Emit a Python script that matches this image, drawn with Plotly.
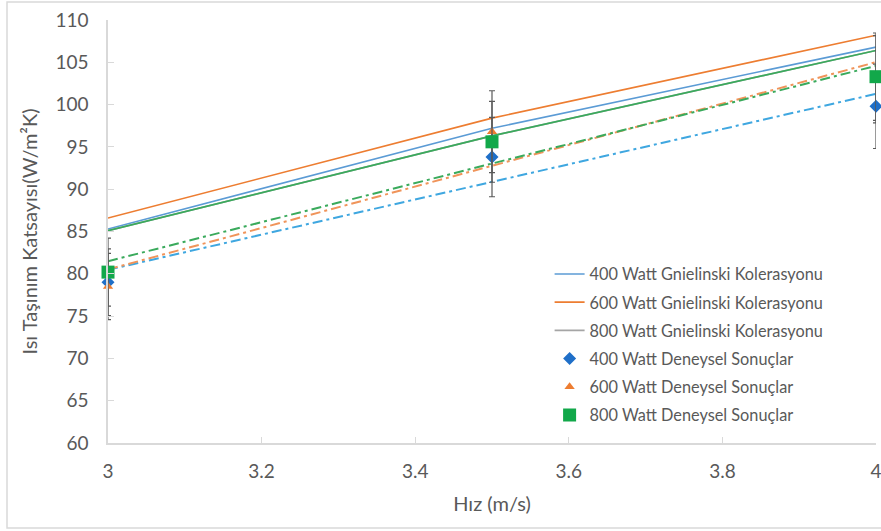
import numpy as np
import plotly.graph_objects as go

# Velocity (m/s)
hiz = [3.0, 3.5, 4.0]

# Gnielinski correlation (W/m²K)
gnielinski_400 = [85.3, 97.2, 106.8]
gnielinski_600 = [86.6, 98.4, 108.2]
gnielinski_800 = [85.1, 96.3, 106.4]

# Experimental results (W/m²K)
deneysel_400 = [79.0, 93.8, 99.8]
deneysel_600 = [78.5, 96.8, 103.0]
deneysel_800 = [80.2, 95.6, 103.3]

# relative uncertainty of measurements (%)
hata_yuzde = 5

x_ticks = [3, 3.2, 3.4, 3.6, 3.8, 4]
y_ticks = [60, 65, 70, 75, 80, 85, 90, 95, 100, 105, 110]

FONT = "Lato"
TXT = "#595959"

fig = go.Figure()

# solid correlation lines
corr = [
    ("400 Watt Gnielinski Kolerasyonu", gnielinski_400, "#5B9BD5"),
    ("600 Watt Gnielinski Kolerasyonu", gnielinski_600, "#ED7D31"),
    ("800 Watt Gnielinski Kolerasyonu", gnielinski_800, "#A5A5A5"),
]
for i, (name, ys, col) in enumerate(corr):
    fig.add_trace(go.Scatter(
        x=hiz, y=ys, mode="lines", name=name,
        line=dict(color=col, width=1.6),
        legendgroup=f"g{i}", cliponaxis=False,
    ))
# green overlay line on the 800 W correlation
fig.add_trace(go.Scatter(
    x=hiz, y=gnielinski_800, mode="lines", showlegend=False,
    line=dict(color="#3AAA5C", width=1.6), cliponaxis=False,
))

# linear trendlines of the experimental data (dash-dot)
trend_cols = ["#3FA7E0", "#F0945A", "#3AAA5C"]
x_arr = np.array(hiz)
for ys, col in zip([deneysel_400, deneysel_600, deneysel_800], trend_cols):
    k, b = np.polyfit(x_arr, np.array(ys), 1)
    fig.add_trace(go.Scatter(
        x=hiz, y=list(k * x_arr + b), mode="lines", showlegend=False,
        line=dict(color=col, width=2, dash="10px,4px,3px,4px"),
        cliponaxis=False,
    ))

# experimental points with error bars
exp = [
    ("400 Watt Deneysel Sonuçlar", deneysel_400, "#1F6FC8", "diamond", 10),
    ("600 Watt Deneysel Sonuçlar", deneysel_600, "#ED7D31", "triangle-up", 9),
    ("800 Watt Deneysel Sonuçlar", deneysel_800, "#12A84A", "square", 13),
]
for i, (name, ys, col, sym, sz) in enumerate(exp):
    fig.add_trace(go.Scatter(
        x=hiz, y=ys, mode="markers", name=name,
        marker=dict(color=col, symbol=sym, size=sz),
        error_y=dict(type="percent", value=hata_yuzde, color="#595959",
                     thickness=1.2, width=3),
        legendgroup=f"g{i + 3}", cliponaxis=False,
    ))

# chart area frame
fig.add_shape(type="rect", xref="paper", yref="paper",
              x0=-0.1315, x1=1.2, y0=-0.201, y1=1.0426,
              line=dict(color="#D9D9D9", width=1.5), layer="below")

fig.update_layout(
    width=881, height=531,
    margin=dict(l=108, r=5, t=20, b=88),
    paper_bgcolor="white", plot_bgcolor="white",
    font=dict(family=FONT, color=TXT),
    showlegend=True,
    legend=dict(
        x=0.575, y=0.44, xanchor="left", yanchor="top",
        font=dict(family=FONT, size=16.3, color=TXT),
        bgcolor="rgba(255,255,255,0)", tracegroupgap=4,
        itemwidth=30,
    ),
    xaxis=dict(
        range=[3, 4], tickvals=x_ticks, ticktext=[str(t) for t in x_ticks],
        showgrid=False, zeroline=False, showline=True,
        linecolor="#D9D9D9", linewidth=1.5,
        ticks="inside", ticklen=6, tickcolor="#D9D9D9",
        tickfont=dict(size=19, color=TXT), automargin=False,
        ticklabeloverflow="allow", ticklabelstandoff=10,
        title=dict(text="Hız (m/s)", font=dict(size=20, color=TXT), standoff=16),
    ),
    yaxis=dict(
        range=[60, 110], tickvals=y_ticks,
        showgrid=False, zeroline=False, showline=True,
        linecolor="#D9D9D9", linewidth=1.5,
        ticks="inside", ticklen=6, tickcolor="#D9D9D9",
        tickfont=dict(size=19, color=TXT), automargin=False,
        ticklabeloverflow="allow", ticklabelstandoff=14,
        title=dict(text="Isı Taşınım Katsayısı(W/m²K)", font=dict(size=20, color=TXT),
                   standoff=12),
    ),
)

fig.write_html("out.html")
